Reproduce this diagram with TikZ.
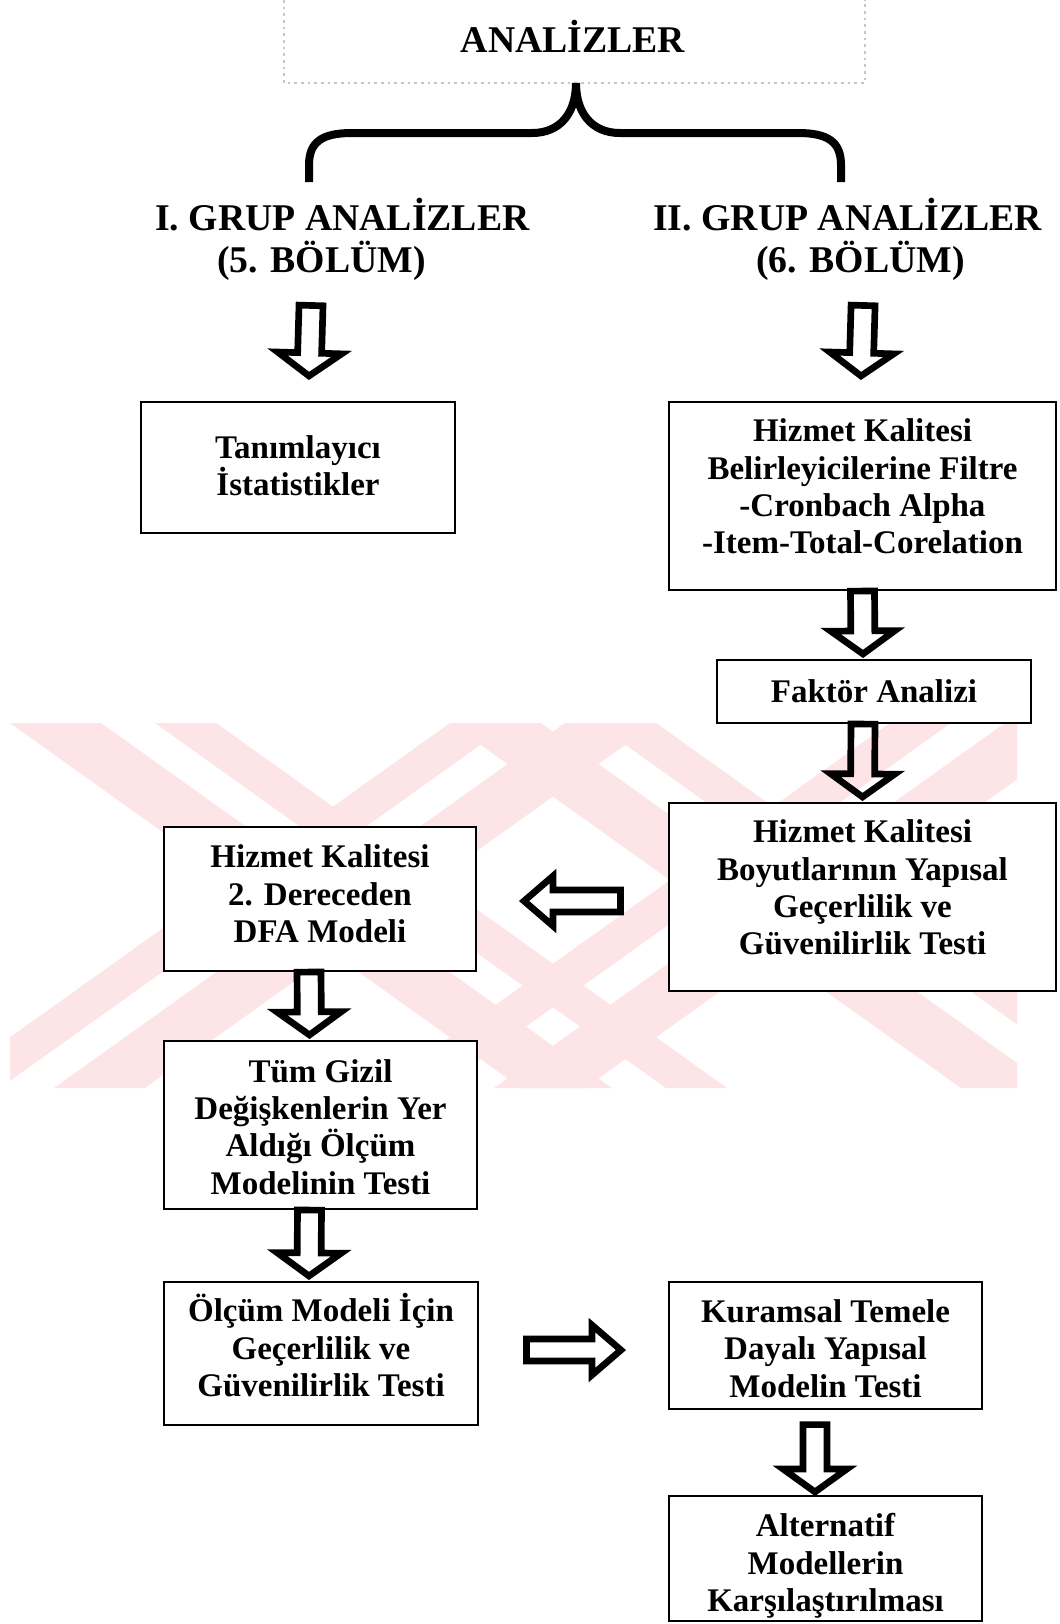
\documentclass[tikz,border=0pt]{standalone}
\usepackage{fontspec}
\setmainfont{Liberation Serif}
\usetikzlibrary{calc}
\definecolor{wmark}{RGB}{253,229,231}
\newcommand\boxfont{\fontsize{24.75pt}{28pt}\selectfont\bfseries}
\newcommand\headfont{\fontsize{28.3pt}{31.5pt}\selectfont\bfseries}
\begin{document}
\begin{tikzpicture}[x=0.75pt,y=-0.75pt,
  box/.style={draw, line width=1.6pt, fill=white, inner sep=0pt},
  txt/.style={align=center, inner sep=0pt, font=\boxfont},
  head/.style={font=\headfont, inner sep=0pt},
  % hollow block arrow drawn between two points
  block/.style={draw, line width=5pt, line join=miter,
    to path={($(\tikztostart)!\blkS!90:(\tikztotarget)$)
      -- ($(\tikztotarget)!\blkL!(\tikztostart)!\blkS!-90:(\tikztostart)$)
      -- ($(\tikztotarget)!\blkL!(\tikztostart)!\blkW!-90:(\tikztostart)$)
      -- (\tikztotarget)
      -- ($(\tikztotarget)!\blkL!(\tikztostart)!\blkW!90:(\tikztostart)$)
      -- ($(\tikztotarget)!\blkL!(\tikztostart)!\blkS!90:(\tikztostart)$)
      -- ($(\tikztostart)!\blkS!-90:(\tikztotarget)$) -- cycle}},
  vblock/.style={block, /utils/exec={\def\blkS{9pt}\def\blkW{24pt}\def\blkL{17.25pt}}},
  hblock/.style={block, /utils/exec={\def\blkS{8.25pt}\def\blkW{18.75pt}\def\blkL{21.75pt}}},
]
\useasboundingbox (0,0) rectangle (1060,1624);
\fill[white] (0,0) rectangle (1060,1624);

% background stripes: two crossed double bands
\begin{scope}
  \clip (10,723) rectangle (1017,1088);
  \foreach \dx in {0,440} {
    \begin{scope}[xshift=\dx*0.75pt]
      \fill[wmark] (10,723) -- (101,723) -- (612,1088) -- (521,1088) -- cycle;
      \fill[wmark] (155,723) -- (216,723) -- (727,1088) -- (666,1088) -- cycle;
      \fill[wmark] (450,723) -- (511,723) -- (0,1088) -- (-61,1088) -- cycle;
      \fill[wmark] (565,723) -- (656,723) -- (145,1088) -- (54,1088) -- cycle;
    \end{scope}
  }
\end{scope}

% title
\draw[gray!45, line width=0.8pt, dash pattern=on 2pt off 3pt] (284,0) -- (284,83) -- (865,83) -- (865,0);
\node[head, anchor=base] (title) at (573,52) {ANALİZLER};

% curly brace
\draw[line width=6pt] (309,182) -- (309,165) .. controls (309,142) and (322,133) .. (352,133)
  -- (532,133) .. controls (561,133) and (576,112) .. (576,83)
  .. controls (576,112) and (591,133) .. (620,133) -- (798,133)
  .. controls (828,133) and (841,142) .. (841,165) -- (841,182);

% group headings
\node[head, anchor=base west] (g1a) at (155,230) {I. GRUP ANALİZLER};
\node[head, anchor=base west] (g1b) at (217,272) {(5. BÖLÜM)};
\node[head, anchor=base west] (g2a) at (653,230) {II. GRUP ANALİZLER};
\node[head, anchor=base west] (g2b) at (756,272) {(6. BÖLÜM)};

% boxes
\node[box, minimum width=235.5pt, minimum height=98.25pt] (tani) at (298,467.5) {};
\node[box, minimum width=290.25pt, minimum height=141pt] (filtre) at (862.5,496) {};
\node[box, minimum width=235.5pt, minimum height=47.25pt] (faktor) at (874,691.5) {};
\node[box, minimum width=290.25pt, minimum height=141pt] (boyut) at (862.5,897) {};
\node[box, minimum width=234pt, minimum height=108pt] (dfa) at (320,899) {};
\node[box, minimum width=234.75pt, minimum height=126pt] (tum) at (320.5,1125) {};
\node[box, minimum width=235.5pt, minimum height=107.25pt] (olcum) at (321,1353.5) {};
\node[box, minimum width=234.75pt, minimum height=95.25pt] (kuram) at (825.5,1345.5) {};
\node[box, minimum width=234.75pt, minimum height=93.75pt] (alt) at (825.5,1558.5) {};

% box texts
\node[txt] (tani-t) at ([yshift=1.5pt]tani.center) {Tanımlayıcı\\İstatistikler};
\node[txt] (filtre-t) at ([yshift=7pt]filtre.center) {Hizmet Kalitesi\\Belirleyicilerine Filtre\\-Cronbach Alpha\\-Item-Total-Corelation};
\node[txt] (faktor-t) at (faktor.center) {Faktör Analizi};
\node[txt] (boyut-t) at ([yshift=7pt]boyut.center) {Hizmet Kalitesi\\Boyutlarının Yapısal\\Geçerlilik ve\\Güvenilirlik Testi};
\node[txt] (dfa-t) at ([yshift=3.9pt]dfa.center) {Hizmet Kalitesi\\2. Dereceden\\DFA Modeli};
\node[txt] (tum-t) at ([yshift=-1.5pt]tum.center) {Tüm Gizil\\Değişkenlerin Yer\\Aldığı Ölçüm\\Modelinin Testi};
\node[txt] (olcum-t) at ([yshift=6.2pt]olcum.center) {Ölçüm Modeli İçin\\Geçerlilik ve\\Güvenilirlik Testi};
\node[txt] (kuram-t) at ([yshift=-2.2pt]kuram.center) {Kuramsal Temele\\Dayalı Yapısal\\Modelin Testi};
\node[txt] (alt-t) at ([yshift=-5.5pt]alt.center) {Alternatif\\Modellerin\\Karşılaştırılması};

% block arrows
\draw[vblock] ([xshift=-7.9pt,yshift=-25.1pt]g1b.base) to ([xshift=8.25pt,yshift=18.75pt]tani.north);
\draw[vblock] ([xshift=1.9pt,yshift=-25.1pt]g2b.base) to ([xshift=-1.1pt,yshift=18.75pt]filtre.north);
\draw[vblock] (filtre.south) to ([xshift=-8.25pt,yshift=3.75pt]faktor.north);
\draw[vblock] ([xshift=-8.25pt]faktor.south) to ([yshift=3.75pt]boyut.north);
\draw[hblock] ([xshift=-35.6pt,yshift=-3pt]boyut.west) to ([xshift=35.25pt,yshift=-1.5pt]dfa.east);
\draw[vblock] ([xshift=-8.25pt]dfa.south) to ([xshift=-8.25pt,yshift=3.75pt]tum.north);
\draw[vblock] ([xshift=-8.25pt]tum.south) to ([xshift=-9pt,yshift=3.75pt]olcum.north);
\draw[hblock] ([xshift=35.6pt,yshift=2.6pt]olcum.east) to ([xshift=-35.25pt,yshift=-3.4pt]kuram.west);
\draw[vblock] ([xshift=-7.9pt,yshift=-10.9pt]kuram.south) to ([xshift=-7.9pt,yshift=2.25pt]alt.north);
\end{tikzpicture}
\end{document}
